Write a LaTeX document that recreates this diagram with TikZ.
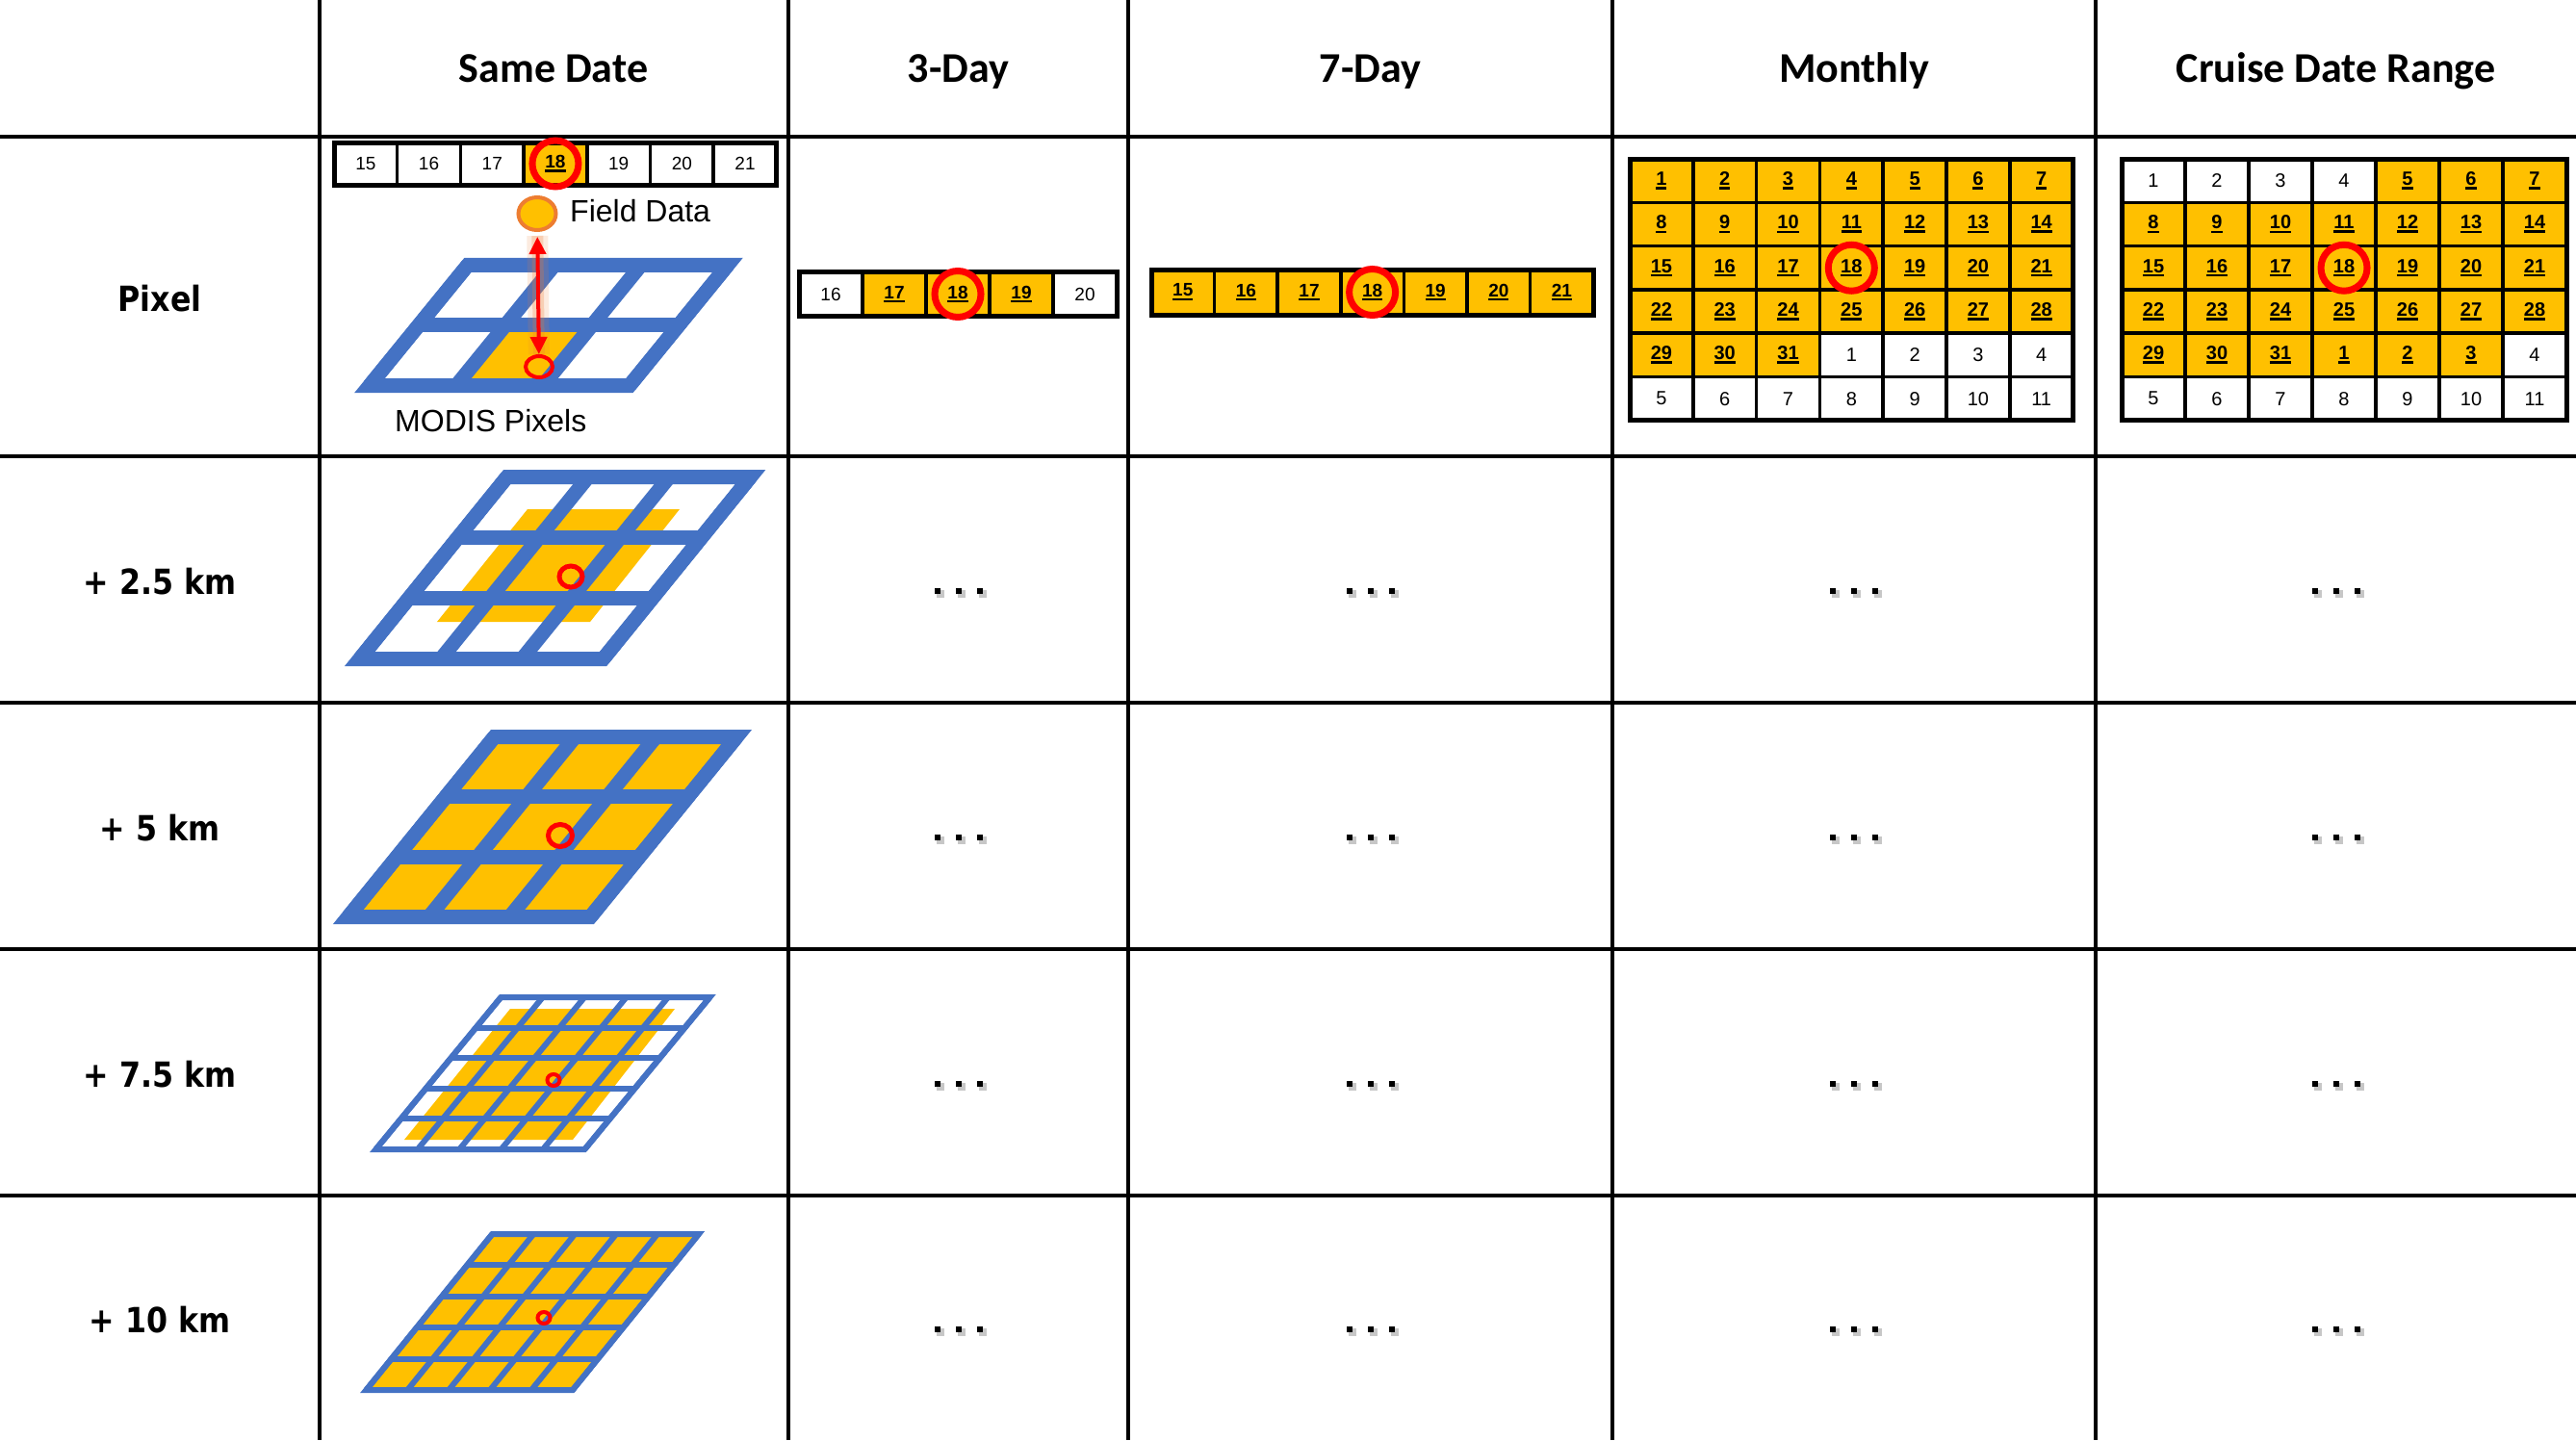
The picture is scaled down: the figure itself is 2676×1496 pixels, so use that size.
\documentclass[tikz,border=0pt]{standalone}
\usepackage{fontspec}
\setmainfont{Liberation Sans}
\newfontfamily\hdrfont{Carlito}
\newfontfamily\rowfont{DejaVu Sans}[FakeStretch=0.88]
\usetikzlibrary{shapes.geometric,arrows.meta}
\definecolor{myyellow}{HTML}{FFC000}
\definecolor{myblue}{HTML}{4472C4}
\definecolor{myred}{HTML}{FF0000}
\definecolor{myorange}{HTML}{ED7D31}
\newcommand\ulnum[1]{\vtop{\hbox{\bfseries #1}\kern1.5pt\hrule height 2.5pt}}
% parallelogram grid: P0x P0y ux vx vy ncols nrows linewidth
\newcommand\pgrid[8]{%
  \foreach \jj in {0,...,#7}{\draw[gline,line width=#8] ({#1+\jj*(#4)},{#2+\jj*(#5)}) -- ++({#6*(#3)},0);}
  \foreach \ii in {0,...,#6}{\draw[gline,line width=#8] ({#1+\ii*(#3)},{#2}) -- ++({#7*(#4)},{#7*(#5)});}
  \draw[gline,line width=#8,line join=miter] (#1,#2) -- ++({#6*(#3)},0) -- ++({#7*(#4)},{#7*(#5)}) -- ++({-#6*(#3)},0) -- cycle;}
\newcommand\tdots[2]{\foreach \dd in {-22,0,22}{\fill[black!22] ({#1+\dd-1},{#2-1}) rectangle ++(8,8); \fill[black] ({#1+\dd-3},{#2-3}) rectangle ++(6,6);}}
\begin{document}
\begin{tikzpicture}[x=1pt,y=-1pt,
  tabline/.style={line width=4pt,draw=black},
  hdr/.style={font=\hdrfont\bfseries\fontsize{44}{50}\selectfont,anchor=base,inner sep=0pt},
  rowlab/.style={font=\rowfont\bfseries\fontsize{36}{40}\selectfont,anchor=base,inner sep=0pt},
  cal/.style={draw=black,line width=3.5pt,inner sep=0pt,outer sep=0pt},
  ring/.style={circle,draw=myred,line width=7pt,minimum size=48pt,inner sep=0pt},
  gline/.style={draw=myblue},
  pring/.style={ellipse,draw=myred,inner sep=0pt},
  lbl/.style={font=\fontsize{32}{36}\selectfont,anchor=base west,inner sep=0pt}]

\useasboundingbox (0,0) rectangle (2676,1496);
\fill[white] (0,0) rectangle (2676,1496);

% ---------- table ----------
\foreach \yy in {142,474,730,986,1242} \draw[tabline] (0,\yy) -- (2676,\yy);
\foreach \xx in {332,819,1172,1675,2177} \draw[tabline] (\xx,0) -- (\xx,1496);

% headers
\node[hdr] (h1) at (575,85) {Same Date};
\node[hdr] (h2) at (995.5,85) {3-Day};
\node[hdr] (h3) at (1423.5,85) {7-Day};
\node[hdr] (h4) at (1926,85) {Monthly};
\node[hdr] (h5) at (2426.5,85) {Cruise Date Range};

% row labels
\node[rowlab] (r1) at (166,323) {Pixel};
\node[rowlab] (r2) at (166,617) {+ 2.5 km};
\node[rowlab] (r3) at (166,873) {+ 5 km};
\node[rowlab] (r4) at (166,1129) {+ 7.5 km};
\node[rowlab] (r5) at (166,1384) {+ 10 km};

% dots
\foreach \cx in {995.5,1423.5,1926,2426.5}{
  \foreach \cy in {614,870,1126,1381}{\tdots{\cx}{\cy}}}

% ---------- calendars ----------
% Same Date strip
\begin{scope}[every node/.append style={minimum width=65.7pt,minimum height=44pt,font=\fontsize{19}{19}\selectfont}]
\foreach \n [count=\k] in {15,...,21}{
  \def\cfill{white}\def\ctx{\n}
  \ifnum\n=18 \def\cfill{myyellow}\def\ctx{\ulnum{\n}}\fi
  \node[cal,fill=\cfill] (sd\k) at ({347+65.7*(\k-0.5)},170) {\ctx};}
\end{scope}
\draw[line width=5pt] (sd1.north west) rectangle (sd7.south east);
\node[ring] (sdring) at (sd4) {};

% 3-Day strip
\begin{scope}[every node/.append style={minimum width=66pt,minimum height=46pt,font=\fontsize{19}{19}\selectfont}]
\foreach \n [count=\k] in {16,...,20}{
  \def\cfill{white}\def\ctx{\n}
  \ifnum\n>16 \ifnum\n<20 \def\cfill{myyellow}\def\ctx{\ulnum{\n}}\fi\fi
  \node[cal,fill=\cfill] (td\k) at ({830+66*(\k-0.5)},305.5) {\ctx};}
\end{scope}
\draw[line width=5pt] (td1.north west) rectangle (td5.south east);
\node[ring] (tdring) at (td3) {};

% 7-Day strip
\begin{scope}[every node/.append style={minimum width=65.6pt,minimum height=47pt,font=\fontsize{19}{19}\selectfont}]
\foreach \n [count=\k] in {15,...,21}{
  \node[cal,fill=myyellow] (sv\k) at ({1196+65.6*(\k-0.5)},303.5) {\ulnum{\n}};}
\end{scope}
\draw[line width=5pt] (sv1.north west) rectangle (sv7.south east);
\node[ring] (svring) at (sv4) {};

% Monthly grid
\begin{scope}[every node/.append style={minimum width=65.8pt,minimum height=45.3pt,font=\fontsize{20}{20}\selectfont}]
\foreach \r in {1,...,6}{\foreach \c in {1,...,7}{
  \pgfmathtruncatemacro\idx{7*(\r-1)+\c}
  \pgfmathtruncatemacro\cnum{\idx>31 ? \idx-31 : \idx}
  \def\cfill{white}\def\ctx{\cnum}
  \ifnum\idx<32 \def\cfill{myyellow}\def\ctx{\ulnum{\cnum}}\fi
  \node[cal,fill=\cfill] (mo-\r-\c) at ({1693+65.8*(\c-0.5)},{165+45.3*(\r-0.5)}) {\ctx};}}
\end{scope}
\draw[line width=5pt] (mo-1-1.north west) rectangle (mo-6-7.south east);
\node[ring] (moring) at (mo-3-4) {};

% Cruise grid
\begin{scope}[every node/.append style={minimum width=66pt,minimum height=45.3pt,font=\fontsize{20}{20}\selectfont}]
\foreach \r in {1,...,6}{\foreach \c in {1,...,7}{
  \pgfmathtruncatemacro\idx{7*(\r-1)+\c}
  \pgfmathtruncatemacro\cnum{\idx>31 ? \idx-31 : \idx}
  \def\cfill{white}\def\ctx{\cnum}
  \ifnum\idx>4 \ifnum\idx<35 \def\cfill{myyellow}\def\ctx{\ulnum{\cnum}}\fi\fi
  \node[cal,fill=\cfill] (cr-\r-\c) at ({2204+66*(\c-0.5)},{165+45.3*(\r-0.5)}) {\ctx};}}
\end{scope}
\draw[line width=5pt] (cr-1-1.north west) rectangle (cr-6-7.south east);
\node[ring] (crring) at (cr-3-4) {};

% ---------- MODIS pixel grids ----------
% Pixel row
\fill[myyellow] (474,400.5) -- (564,400.5) -- (615,337.9) -- (525,337.9) -- cycle;
\pgrid{384}{400.5}{90}{51}{-62.6}{3}{2}{15pt}
\node[pring,line width=4pt,minimum width=28pt,minimum height=22pt] (pix) at (560,381) {};
\node[ellipse,draw=myorange,fill=myyellow,line width=4pt,minimum width=39pt,minimum height=34pt,inner sep=0pt] (field) at (558,222) {};
\draw[myorange,opacity=0.15,line width=22pt,shorten <=4pt] (field) -- (pix);
\draw[myorange,opacity=0.25,line width=12pt,shorten <=4pt] (field) -- (pix);
\draw[myred,line width=4pt,{Triangle[length=18pt,width=17pt]}-{Triangle[length=18pt,width=17pt]},shorten <=5pt] (field) -- (pix);
\node[lbl] (fdlab) at (592,230) {Field Data};
\node[lbl] (mplab) at (410,448) {MODIS Pixels};

% +2.5 km
\fill[myyellow] (548,529) -- (706,529) -- (613,646) -- (454,646) -- cycle;
\pgrid{373.7}{684.5}{84.3}{51}{-63}{3}{3}{15pt}
\node[pring,line width=5pt,minimum width=24pt,minimum height=22pt] (p25) at (593,599) {};

% +5 km
\fill[myyellow] (361.7,952.5) -- ++(251.7,0) -- ++(151.8,-186.9) -- ++(-251.7,0) -- cycle;
\pgrid{361.7}{952.5}{83.9}{50.6}{-62.3}{3}{3}{15pt}
\node[pring,line width=5pt,minimum width=25pt,minimum height=23pt] (p5) at (582,868) {};

% +7.5 km
\fill[myyellow] (530,1048) -- (701,1048) -- (595,1184) -- (420,1184) -- cycle;
\pgrid{390.4}{1194}{43.4}{26}{-31.6}{5}{5}{6pt}
\node[pring,line width=4pt,minimum width=13pt,minimum height=12pt] (p75) at (575,1122) {};

% +10 km
\fill[myyellow] (380.4,1444) -- ++(214.5,0) -- ++(131,-162) -- ++(-214.5,0) -- cycle;
\pgrid{380.4}{1444}{42.9}{26.2}{-32.4}{5}{5}{6pt}
\node[pring,line width=4pt,minimum width=13pt,minimum height=12pt] (p10) at (565,1369) {};

\end{tikzpicture}
\end{document}
